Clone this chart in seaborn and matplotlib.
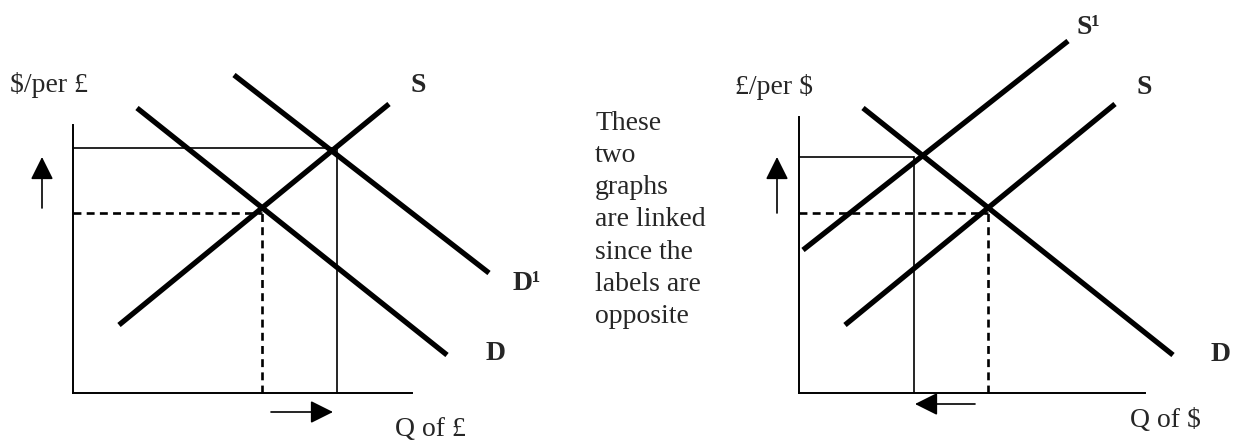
import matplotlib
matplotlib.use("Agg")
import matplotlib.pyplot as plt
import seaborn as sns
import pandas as pd

# curve end points, measured from each graph's origin (units = pixels)
supply_q = [46, 316]
supply_p = [68, 289]
demand_q = [64, 374]
demand_p = [285, 38]
demand1_q = [161, 416]
demand1_p = [318, 120]
supply1_q = [4, 269]
supply1_p = [143, 352]

# equilibrium points (q, p)
left_old = (189, 180)
left_new = (264, 245)
right_old = (189, 180)
right_new = (115, 236)

mid_text = ["These", "two", "graphs", "are linked", "since the", "labels are", "opposite"]

sns.set_style("white")
plt.rcParams['font.family'] = ['Liberation Serif', 'DejaVu Serif']
FS = 20
BLACK = "black"

W, H = 1243, 444
fig = plt.figure(figsize=(W / 100, H / 100), dpi=100)


def make_axes(x0, y_bottom, x1, y_top):
    ax = fig.add_axes([x0 / W, (H - y_bottom) / H, (x1 - x0) / W, (y_bottom - y_top) / H])
    ax.set_xlim(0, x1 - x0)
    ax.set_ylim(0, y_bottom - y_top)
    ax.set_xticks([])
    ax.set_yticks([])
    sns.despine(ax=ax)
    for s in ["left", "bottom"]:
        ax.spines[s].set_linewidth(1.4)
        ax.spines[s].set_color(BLACK)
    ax.patch.set_alpha(0)
    return ax


def curve(ax, q, p):
    df = pd.DataFrame({"q": q, "p": p})
    sns.lineplot(data=df, x="q", y="p", ax=ax, color=BLACK, lw=3.8,
                 estimator=None, sort=False, clip_on=False, solid_capstyle="butt")


def guide(ax, pt, dashed):
    q, p = pt
    kw = dict(color=BLACK, clip_on=False)
    if dashed:
        kw.update(lw=1.9, linestyle=(0, (3, 2)))
    else:
        kw.update(lw=1.2)
    ax.plot([0, q], [p, p], **kw)
    ax.plot([q, q], [0, p], **kw)


def arrow(ax, start, end):
    ax.annotate("", xy=end, xytext=start, annotation_clip=False,
                arrowprops=dict(arrowstyle="-|>,head_length=0.7,head_width=0.35",
                                mutation_scale=20, lw=1.2, color=BLACK,
                                shrinkA=0, shrinkB=0))


# left graph: market for pounds
axL = make_axes(73, 393, 412, 125)
curve(axL, supply_q, supply_p)
curve(axL, demand_q, demand_p)
curve(axL, demand1_q, demand1_p)
guide(axL, left_new, dashed=False)
guide(axL, left_old, dashed=True)
arrow(axL, (-31, 185), (-31, 236))
arrow(axL, (198, -19), (260, -19))
axL.text(-63, 308, "$/per £", fontsize=FS, ha="left", va="center")
axL.text(345, 307, "S", fontsize=FS, fontweight="bold", ha="center", va="center")
axL.text(440, 110, "D¹", fontsize=FS, fontweight="bold", ha="left", va="center")
axL.text(423, 40, "D", fontsize=FS, fontweight="bold", ha="center", va="center")
axL.text(322, -36, "Q of £", fontsize=FS, ha="left", va="center")

# right graph: market for dollars
axR = make_axes(799, 393, 1145, 117)
curve(axR, supply_q, supply_p)
curve(axR, supply1_q, supply1_p)
curve(axR, demand_q, demand_p)
guide(axR, right_new, dashed=False)
guide(axR, right_old, dashed=True)
arrow(axR, (-22, 180), (-22, 236))
arrow(axR, (176, -11), (116, -11))
axR.text(-64, 306, "£/per $", fontsize=FS, ha="left", va="center")
axR.text(278, 366, "S¹", fontsize=FS, fontweight="bold", ha="left", va="center")
axR.text(345, 306, "S", fontsize=FS, fontweight="bold", ha="center", va="center")
axR.text(422, 39, "D", fontsize=FS, fontweight="bold", ha="center", va="center")
axR.text(331, -27, "Q of $", fontsize=FS, ha="left", va="center")

# note between the graphs
for i, line in enumerate(mid_text):
    fig.text(595 / W, 1 - (123 + 32.3 * i) / H, line, fontsize=FS, ha="left", va="center")

fig.savefig("out.png", dpi=100, facecolor="white")
